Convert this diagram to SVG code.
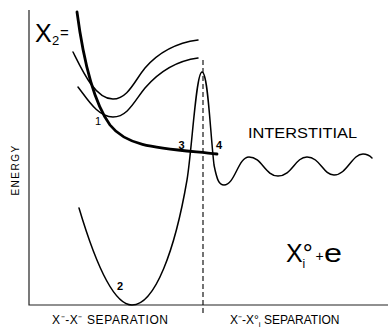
<svg xmlns="http://www.w3.org/2000/svg" width="389" height="330" viewBox="0 0 389 330">
<style>
.ax{fill:none;stroke:#222;stroke-width:1.2}
.thin{fill:none;stroke:#000;stroke-width:1.5;stroke-linecap:round;stroke-linejoin:round}
.thick{fill:none;stroke:#000;stroke-width:2.8;stroke-linecap:round}
.dash{fill:none;stroke:#000;stroke-width:1.1;stroke-dasharray:5 3}
.t{font-family:"Liberation Sans",Arial,sans-serif;fill:#000}
.num{font-size:11px;text-anchor:middle;font-weight:bold}
</style>
<rect width="389" height="330" fill="#fff"/>
<g id="axes">
<path class="ax" d="M29,10 V305 H388"/>
<path class="dash" d="M203,60 V315"/>
</g>
<g id="connectors">
<path id="curve-upper" class="thin" d="M73,52 C82,70 95,99 113,99 C128,99 135,80 145,68 C158,53 175,43 198,40"/>
<path id="curve-middle" class="thin" d="M78,87 C88,100 98,117 113,117 C128,117 135,100 145,88 C158,73 175,61 198,58"/>
<path id="curve-x2" class="thick" d="M77,12 C82,50 92,100 110,125 C128,148 160,148 217,154"/>
<path id="curve-lower" class="thin" d="M79,208 C90,245 110,305 132,305 C155,305 175,250 187,180 C192,150 196,72 202,72 C208,72 210,130 214,165 C217,180 219,185 224,185 C235,185 238,157 249,157 C262,157 265,176 278,176 C292,176 295,157 307,157 C320,157 323,175 334,175 C347,175 352,154 363,154 C368,154 370,156 372,158"/>
</g>
<g id="label-x2">
<text class="t" x="35" y="42" font-size="25">X</text>
<text class="t" x="52" y="45" font-size="13">2</text>
<text class="t" x="60" y="38" font-size="15">=</text>
</g>
<g id="label-points">
<text class="t num" x="98" y="125" style="font-weight:normal">1</text>
<text class="t num" x="120" y="290">2</text>
<text class="t num" x="181.5" y="149">3</text>
<text class="t num" x="219" y="149">4</text>
</g>
<g id="label-interstitial">
<text class="t" x="248" y="138" font-size="15.5" textLength="109" lengthAdjust="spacingAndGlyphs">INTERSTITIAL</text>
</g>
<g id="label-xi">
<text class="t" x="286" y="262" font-size="25">X°</text>
<text class="t" x="302.5" y="268" font-size="12">i</text>
<text class="t" x="315.5" y="261" font-size="14">+</text>
<text class="t" x="324" y="262" font-size="26" textLength="18" lengthAdjust="spacingAndGlyphs">e</text>
</g>
<g id="label-energy">
<text class="t" x="18.5" y="170" font-size="10" letter-spacing="1.5" text-anchor="middle" transform="rotate(-90 18.5 170)">ENERGY</text>
</g>
<g id="label-axes">
<text class="t" x="52" y="324" font-size="12" textLength="116" lengthAdjust="spacing">X⁻-X⁻ SEPARATION</text>
<text class="t" x="230" y="324" font-size="12">X⁻-X°<tspan font-size="8" dy="3">i</tspan><tspan dy="-3"> SEPARATION</tspan></text>
</g>
</svg>
